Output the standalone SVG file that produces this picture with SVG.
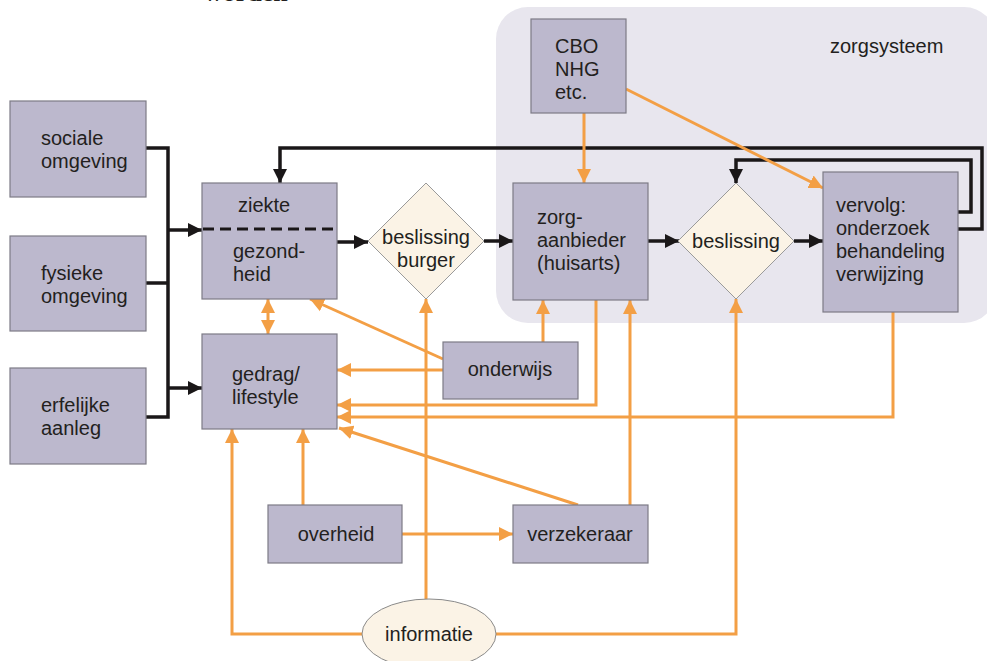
<svg xmlns="http://www.w3.org/2000/svg" width="987" height="661" viewBox="0 0 987 661">
<style>
.box{fill:#bcb8cd;stroke:#7d7b86;stroke-width:1.2}
.dia{fill:#fbf3e6;stroke:#9a9a9a;stroke-width:1}
.t{font-family:"Liberation Sans",Arial,sans-serif;font-size:20px;fill:#231f20}
.c{text-anchor:middle}
.blk{fill:none;stroke:#1a1718;stroke-width:3.5}
.org{fill:none;stroke:#f39f45;stroke-width:3}
</style>
<defs>
<marker id="ab" markerUnits="userSpaceOnUse" markerWidth="16" markerHeight="16" refX="14" refY="8" orient="auto"><path d="M0,1 L14,8 L0,15 z" fill="#1a1718"/></marker>
<marker id="ao" markerUnits="userSpaceOnUse" markerWidth="16" markerHeight="16" refX="14" refY="8" orient="auto-start-reverse"><path d="M0,1 L14,8 L0,15 z" fill="#f39f45"/></marker>
</defs>
<rect x="0" y="0" width="987" height="661" fill="#ffffff"/>
<text x="204" y="0.5" style="font-family:'Liberation Serif',serif;font-size:26px;font-weight:bold;fill:#231f20">worden</text>
<g id="zorgsysteem">
<rect x="496" y="7" width="500" height="316" rx="32" fill="#e8e6ee"/>
<text class="t" x="830" y="53">zorgsysteem</text>
</g>
<g id="connectors">
<path class="blk" d="M146,148 H168 V417 H146"/>
<path class="blk" d="M146,283 H168"/>
<path class="blk" d="M168,230 H202" marker-end="url(#ab)"/>
<path class="blk" d="M168,388 H202" marker-end="url(#ab)"/>
<path class="blk" d="M337,242 H368" marker-end="url(#ab)"/>
<path class="blk" d="M484,241 H513" marker-end="url(#ab)"/>
<path class="blk" d="M648,241 H679" marker-end="url(#ab)"/>
<path class="blk" d="M794,241 H823" marker-end="url(#ab)"/>
<path class="blk" d="M958,212 H971 V160 H736 V183" marker-end="url(#ab)"/>
<path class="blk" d="M958,229 H982 V148 H280 V183" marker-end="url(#ab)"/>
<path class="org" d="M584,113 V183" marker-end="url(#ao)"/>
<path class="org" d="M626,89 L823,188" marker-end="url(#ao)"/>
<path class="org" d="M268,299 V334" marker-start="url(#ao)" marker-end="url(#ao)"/>
<path class="org" d="M443,359 L310,299" marker-end="url(#ao)"/>
<path class="org" d="M443,370 H337" marker-end="url(#ao)"/>
<path class="org" d="M543,342 V300" marker-end="url(#ao)"/>
<path class="org" d="M596,300 V405 H337" marker-end="url(#ao)"/>
<path class="org" d="M893,312 V417 H337" marker-end="url(#ao)"/>
<path class="org" d="M578,505 L339,428" marker-end="url(#ao)"/>
<path class="org" d="M630,505 V300" marker-end="url(#ao)"/>
<path class="org" d="M303,505 V429" marker-end="url(#ao)"/>
<path class="org" d="M402,534 H513" marker-end="url(#ao)"/>
<path class="org" d="M426,599 V299" marker-end="url(#ao)"/>
<path class="org" d="M496,634 H736 V299" marker-end="url(#ao)"/>
<path class="org" d="M362,634 H232 V429" marker-end="url(#ao)"/>
</g>
<g id="sociale">
<rect class="box" x="10" y="101" width="136" height="96"/>
<text class="t" x="41" y="145">sociale</text>
<text class="t" x="41" y="168">omgeving</text>
</g>
<g id="fysieke">
<rect class="box" x="10" y="236" width="136" height="95"/>
<text class="t" x="41" y="280">fysieke</text>
<text class="t" x="41" y="303">omgeving</text>
</g>
<g id="erfelijke">
<rect class="box" x="10" y="368" width="136" height="96"/>
<text class="t" x="41" y="412">erfelijke</text>
<text class="t" x="41" y="435">aanleg</text>
</g>
<g id="ziekte">
<rect class="box" x="202" y="183" width="135" height="116"/>
<line x1="203" y1="229" x2="337" y2="229" stroke="#1a1718" stroke-width="3" stroke-dasharray="11,6"/>
<text class="t" x="238" y="212">ziekte</text>
<text class="t" x="233" y="258">gezond-</text>
<text class="t" x="233" y="281">heid</text>
</g>
<g id="gedrag">
<rect class="box" x="202" y="334" width="135" height="95"/>
<text class="t" x="232" y="381">gedrag/</text>
<text class="t" x="232" y="404">lifestyle</text>
</g>
<g id="burger">
<path class="dia" d="M426,183 L484,241 L426,299 L368,241 z"/>
<text class="t c" x="426" y="244">beslissing</text>
<text class="t c" x="426" y="267">burger</text>
</g>
<g id="cbo">
<rect class="box" x="531" y="19" width="95" height="94"/>
<text class="t" x="555" y="53">CBO</text>
<text class="t" x="555" y="76">NHG</text>
<text class="t" x="555" y="99">etc.</text>
</g>
<g id="zorgaanbieder">
<rect class="box" x="513" y="183" width="135" height="117"/>
<text class="t" x="537" y="224">zorg-</text>
<text class="t" x="537" y="247">aanbieder</text>
<text class="t" x="537" y="270">(huisarts)</text>
</g>
<g id="beslissing">
<path class="dia" d="M736,183 L794,241 L736,299 L678,241 z"/>
<text class="t c" x="736" y="248">beslissing</text>
</g>
<g id="vervolg">
<rect class="box" x="823" y="172" width="135" height="140"/>
<text class="t" x="836" y="212">vervolg:</text>
<text class="t" x="836" y="235">onderzoek</text>
<text class="t" x="836" y="258">behandeling</text>
<text class="t" x="836" y="281">verwijzing</text>
</g>
<g id="onderwijs">
<rect class="box" x="443" y="342" width="135" height="57"/>
<text class="t c" x="510" y="376">onderwijs</text>
</g>
<g id="overheid">
<rect class="box" x="268" y="505" width="134" height="58"/>
<text class="t c" x="336" y="541">overheid</text>
</g>
<g id="verzekeraar">
<rect class="box" x="513" y="505" width="135" height="58"/>
<text class="t c" x="580" y="541">verzekeraar</text>
</g>
<g id="informatie">
<ellipse cx="429" cy="634" rx="67" ry="35" fill="#fbf3e6" stroke="#8a8a8a" stroke-width="1"/>
<text class="t c" x="429" y="641">informatie</text>
</g>
</svg>
